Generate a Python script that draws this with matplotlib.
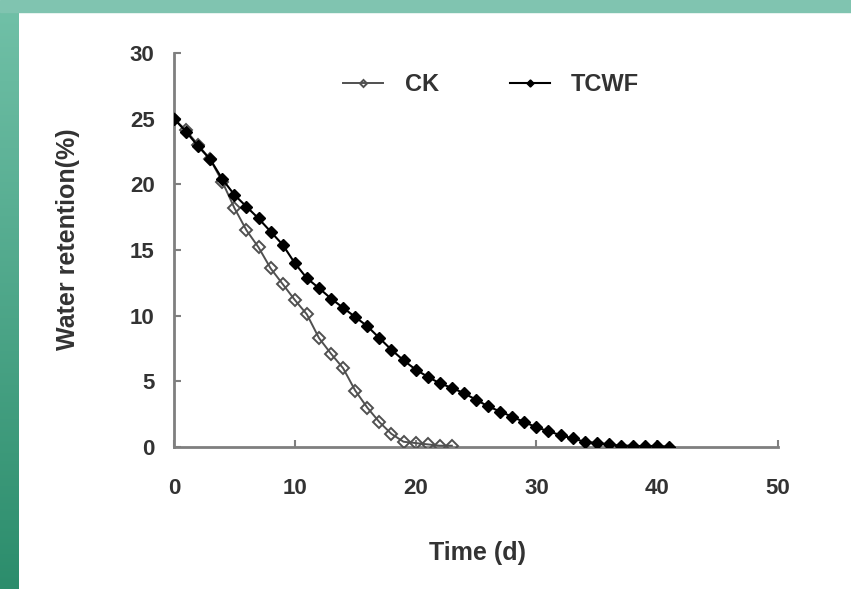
import numpy as np
import matplotlib
matplotlib.use('Agg')
import matplotlib.pyplot as plt
from matplotlib.patches import Rectangle

# data
ck_days = list(range(0, 24))
ck_values = [25.0, 24.1, 23.0, 21.9, 20.2, 18.2, 16.5, 15.2, 13.6, 12.4,
             11.2, 10.1, 8.3, 7.1, 6.0, 4.3, 3.0, 1.9, 1.0, 0.4,
             0.3, 0.2, 0.1, 0.1]

tcwf_days = list(range(0, 42))
tcwf_values = [25.0, 24.0, 22.9, 21.9, 20.4, 19.2, 18.3, 17.4, 16.4, 15.4,
               14.0, 12.85, 12.1, 11.3, 10.6, 9.9, 9.2, 8.3, 7.4, 6.6,
               5.9, 5.35, 4.85, 4.5, 4.1, 3.6, 3.1, 2.7, 2.3, 1.9,
               1.5, 1.2, 0.9, 0.65, 0.4, 0.3, 0.2, 0.1, 0.1, 0.05,
               0.1, 0.0]

x_ticks = [0, 10, 20, 30, 40, 50]
y_ticks = [0, 5, 10, 15, 20, 25, 30]

plt.rcParams['font.family'] = ['Liberation Sans', 'DejaVu Sans']

fig = plt.figure(figsize=(8.51, 5.89), dpi=100)
fig.patch.set_facecolor('white')

# green frame: top strip and gradient strip on the left
W, H = 851, 589
fig.patches.append(Rectangle((0, 1 - 12 / H), 1, 12 / H, transform=fig.transFigure,
                             color='#80c4b0', zorder=0))
strip = fig.add_axes([0, 0, 19 / W, 1 - 12 / H])
top_c = np.array([0x70, 0xc0, 0xa7]) / 255
bot_c = np.array([0x2c, 0x8d, 0x6c]) / 255
t = np.linspace(0, 1, 200)[:, None, None]
grad = top_c * (1 - t) + bot_c * t
strip.imshow(np.repeat(grad, 2, axis=1), aspect='auto', extent=[0, 1, 0, 1])
strip.axis('off')

ax = fig.add_axes([174 / W, 1 - 447 / H, (778 - 174) / W, (447 - 53) / H])

ax.plot(ck_days, ck_values, color='#505050', lw=1.4, marker='D', markersize=6,
        markerfacecolor='none', markeredgecolor='#505050', markeredgewidth=1.4,
        label='CK', zorder=3)
ax.plot(tcwf_days, tcwf_values, color='black', lw=1.5, marker='D', markersize=6,
        markerfacecolor='black', markeredgecolor='black', label='TCWF', zorder=4)

ax.set_xlim(0, 50)
ax.set_ylim(0, 30)
ax.set_xticks(x_ticks)
ax.set_yticks(y_ticks)

for side in ['top', 'right']:
    ax.spines[side].set_visible(False)
for side in ['left', 'bottom']:
    ax.spines[side].set_color('#7f7f7f')
    ax.spines[side].set_linewidth(2)

ax.tick_params(axis='both', direction='in', length=5, width=1.5, color='#7f7f7f',
               labelsize=16, labelcolor='#333333')
ax.tick_params(axis='x', pad=22)
ax.tick_params(axis='y', pad=14)
for lab in ax.get_xticklabels() + ax.get_yticklabels():
    lab.set_fontweight('bold')

ax.set_xlabel('Time (d)', fontsize=18, fontweight='bold', color='#333333', va='center')
ax.xaxis.set_label_coords(0.503, -0.269)
ax.set_ylabel('Water retention(%)', fontsize=18, fontweight='bold', color='#333333',
              va='center')
ax.yaxis.set_label_coords(-0.175, 0.528)

leg = ax.legend(loc='center', bbox_to_anchor=(0.525, 0.919), ncol=2, frameon=False,
                markerscale=0.6, handlelength=1.7, columnspacing=3.0, handletextpad=0.9,
                prop={'size': 17, 'weight': 'bold'})
for txt in leg.get_texts():
    txt.set_color('#333333')

fig.savefig('out.png', dpi=100)
